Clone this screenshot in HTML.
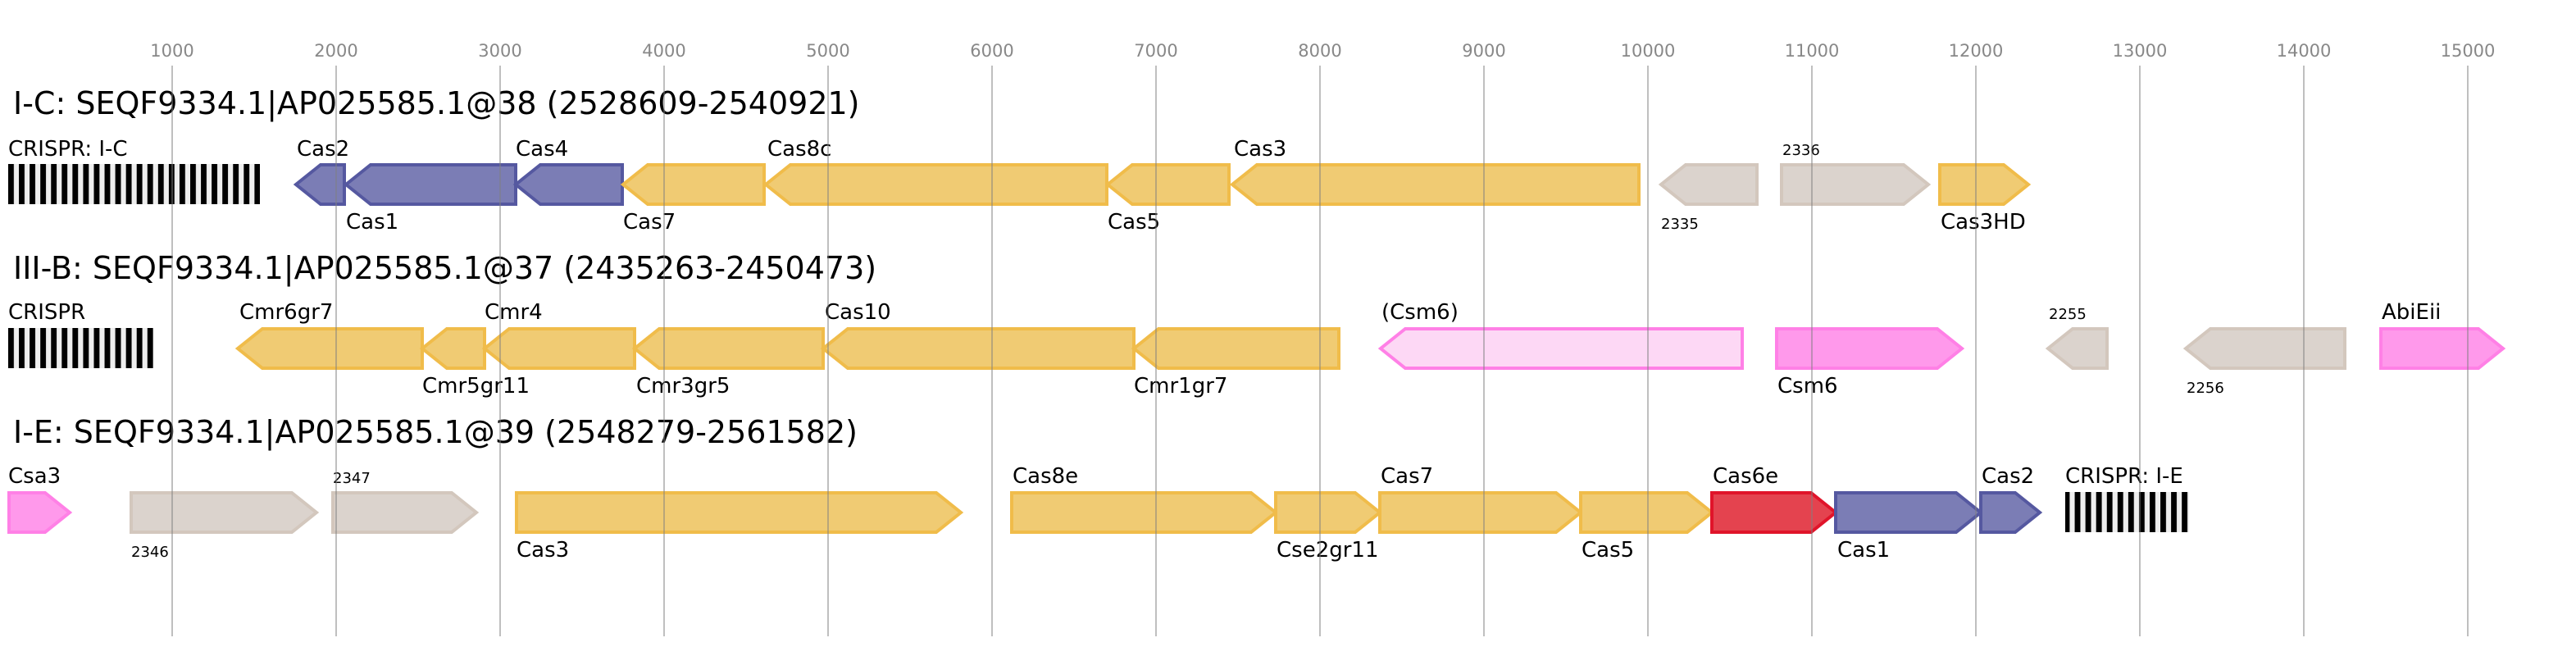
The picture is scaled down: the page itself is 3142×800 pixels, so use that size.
<!DOCTYPE html>
<html><head><meta charset="utf-8"><style>
html,body{margin:0;padding:0;background:#fff;}
svg{display:block;font-family:"DejaVu Sans","Liberation Sans",sans-serif;}
.t{font-size:38px;fill:#000}
.l{font-size:26px;fill:#000}
.s{font-size:18px;fill:#000}
.k{font-size:21px;fill:#888;text-anchor:middle}
.y{fill:#f0cb73;stroke:#f0bc4a;stroke-width:4}
.b{fill:#7b7db5;stroke:#5558a0;stroke-width:4}
.g{fill:#dbd3cd;stroke:#d3c7bd;stroke-width:4}
.p{fill:#ff99eb;stroke:#ff80e6;stroke-width:4}
.lp{fill:#fdd8f5;stroke:#ff80e6;stroke-width:4}
.r{fill:#e4434f;stroke:#e0142a;stroke-width:4}
.gl{stroke:rgba(128,128,128,0.5);stroke-width:2}
</style></head><body>
<svg width="3142" height="800" viewBox="0 0 3142 800" xmlns="http://www.w3.org/2000/svg">
<defs>
<pattern id="cr" x="10" y="0" width="13.06" height="800" patternUnits="userSpaceOnUse"><rect x="0" y="0" width="7" height="800" fill="#000"/><rect x="7" y="0" width="6.06" height="800" fill="#eee"/></pattern>
</defs>
<g class="k">
<text x="210" y="69">1000</text><text x="410" y="69">2000</text><text x="610" y="69">3000</text><text x="810" y="69">4000</text><text x="1010" y="69">5000</text><text x="1210" y="69">6000</text><text x="1410" y="69">7000</text><text x="1610" y="69">8000</text><text x="1810" y="69">9000</text><text x="2010" y="69">10000</text><text x="2210" y="69">11000</text><text x="2410" y="69">12000</text><text x="2610" y="69">13000</text><text x="2810" y="69">14000</text><text x="3010" y="69">15000</text>
</g>

<text class="t" x="16" y="139">I-C: SEQF9334.1|AP025585.1@38 (2528609-2540921)</text>
<text class="l" x="10" y="190">CRISPR: I-C</text>
<rect x="10" y="200" width="307" height="49" fill="url(#cr)"/>
<path class="b" d="M420,201 L391,201 L361,225 L391,249 L420,249 Z"/>
<path class="b" d="M629,201 L452,201 L422,225 L452,249 L629,249 Z"/>
<path class="b" d="M759,201 L659,201 L629,225 L659,249 L759,249 Z"/>
<path class="y" d="M932,201 L790,201 L760,225 L790,249 L932,249 Z"/>
<path class="y" d="M1350,201 L964,201 L934,225 L964,249 L1350,249 Z"/>
<path class="y" d="M1499,201 L1381,201 L1351,225 L1381,249 L1499,249 Z"/>
<path class="y" d="M1999,201 L1533,201 L1503,225 L1533,249 L1999,249 Z"/>
<path class="g" d="M2143,201 L2056,201 L2026,225 L2056,249 L2143,249 Z"/>
<path class="g" d="M2173,201 L2322,201 L2352,225 L2322,249 L2173,249 Z"/>
<path class="y" d="M2366,201 L2444,201 L2474,225 L2444,249 L2366,249 Z"/>
<text class="l" x="362" y="190">Cas2</text>
<text class="l" x="422" y="279">Cas1</text>
<text class="l" x="629" y="190">Cas4</text>
<text class="l" x="760" y="279">Cas7</text>
<text class="l" x="936" y="190">Cas8c</text>
<text class="l" x="1351" y="279">Cas5</text>
<text class="l" x="1505" y="190">Cas3</text>
<text class="s" x="2026" y="279">2335</text>
<text class="s" x="2174" y="189">2336</text>
<text class="l" x="2367" y="279">Cas3HD</text>

<text class="t" x="16" y="340">III-B: SEQF9334.1|AP025585.1@37 (2435263-2450473)</text>
<text class="l" x="10" y="389">CRISPR</text>
<rect x="10" y="400" width="177" height="49" fill="url(#cr)"/>
<path class="y" d="M515,401 L320,401 L290,425 L320,449 L515,449 Z"/>
<path class="y" d="M591,401 L545,401 L515,425 L545,449 L591,449 Z"/>
<path class="y" d="M774,401 L621,401 L591,425 L621,449 L774,449 Z"/>
<path class="y" d="M1004,401 L804,401 L774,425 L804,449 L1004,449 Z"/>
<path class="y" d="M1383,401 L1034,401 L1004,425 L1034,449 L1383,449 Z"/>
<path class="y" d="M1633,401 L1413,401 L1383,425 L1413,449 L1633,449 Z"/>
<path class="lp" d="M2125,401 L1714,401 L1684,425 L1714,449 L2125,449 Z"/>
<path class="p" d="M2167,401 L2363,401 L2393,425 L2363,449 L2167,449 Z"/>
<path class="g" d="M2570,401 L2528,401 L2498,425 L2528,449 L2570,449 Z"/>
<path class="g" d="M2860,401 L2696,401 L2666,425 L2696,449 L2860,449 Z"/>
<path class="p" d="M2904,401 L3023,401 L3053,425 L3023,449 L2904,449 Z"/>
<text class="l" x="292" y="389">Cmr6gr7</text>
<text class="l" x="515" y="479">Cmr5gr11</text>
<text class="l" x="591" y="389">Cmr4</text>
<text class="l" x="776" y="479">Cmr3gr5</text>
<text class="l" x="1006" y="389">Cas10</text>
<text class="l" x="1383" y="479">Cmr1gr7</text>
<text class="l" x="1685" y="389">(Csm6)</text>
<text class="l" x="2168" y="479">Csm6</text>
<text class="s" x="2499" y="389">2255</text>
<text class="s" x="2667" y="479">2256</text>
<text class="l" x="2905" y="389">AbiEii</text>

<text class="t" x="16" y="540">I-E: SEQF9334.1|AP025585.1@39 (2548279-2561582)</text>
<path class="p" d="M11,601 L55,601 L85,625 L55,649 L11,649 Z"/>
<path class="g" d="M160,601 L356,601 L386,625 L356,649 L160,649 Z"/>
<path class="g" d="M406,601 L551,601 L581,625 L551,649 L406,649 Z"/>
<path class="y" d="M630,601 L1142,601 L1172,625 L1142,649 L630,649 Z"/>
<path class="y" d="M1234,601 L1526,601 L1556,625 L1526,649 L1234,649 Z"/>
<path class="y" d="M1556,601 L1653,601 L1683,625 L1653,649 L1556,649 Z"/>
<path class="y" d="M1683,601 L1898,601 L1928,625 L1898,649 L1683,649 Z"/>
<path class="y" d="M1928,601 L2058,601 L2088,625 L2058,649 L1928,649 Z"/>
<path class="r" d="M2088,601 L2209,601 L2239,625 L2209,649 L2088,649 Z"/>
<path class="b" d="M2239,601 L2386,601 L2416,625 L2386,649 L2239,649 Z"/>
<path class="b" d="M2416,601 L2458,601 L2488,625 L2458,649 L2416,649 Z"/>
<rect x="2519" y="600" width="151" height="49" fill="url(#cr)"/>
<text class="l" x="10" y="589">Csa3</text>
<text class="s" x="160" y="679">2346</text>
<text class="s" x="406" y="589">2347</text>
<text class="l" x="630" y="679">Cas3</text>
<text class="l" x="1235" y="589">Cas8e</text>
<text class="l" x="1557" y="679">Cse2gr11</text>
<text class="l" x="1684" y="589">Cas7</text>
<text class="l" x="1929" y="679">Cas5</text>
<text class="l" x="2089" y="589">Cas6e</text>
<text class="l" x="2241" y="679">Cas1</text>
<text class="l" x="2417" y="589">Cas2</text>
<text class="l" x="2519" y="589">CRISPR: I-E</text>

<g class="gl">
<line x1="210" y1="80" x2="210" y2="776"/><line x1="410" y1="80" x2="410" y2="776"/><line x1="610" y1="80" x2="610" y2="776"/><line x1="810" y1="80" x2="810" y2="776"/><line x1="1010" y1="80" x2="1010" y2="776"/><line x1="1210" y1="80" x2="1210" y2="776"/><line x1="1410" y1="80" x2="1410" y2="776"/><line x1="1610" y1="80" x2="1610" y2="776"/><line x1="1810" y1="80" x2="1810" y2="776"/><line x1="2010" y1="80" x2="2010" y2="776"/><line x1="2210" y1="80" x2="2210" y2="776"/><line x1="2410" y1="80" x2="2410" y2="776"/><line x1="2610" y1="80" x2="2610" y2="776"/><line x1="2810" y1="80" x2="2810" y2="776"/><line x1="3010" y1="80" x2="3010" y2="776"/>
</g>
</svg>
</body></html>
